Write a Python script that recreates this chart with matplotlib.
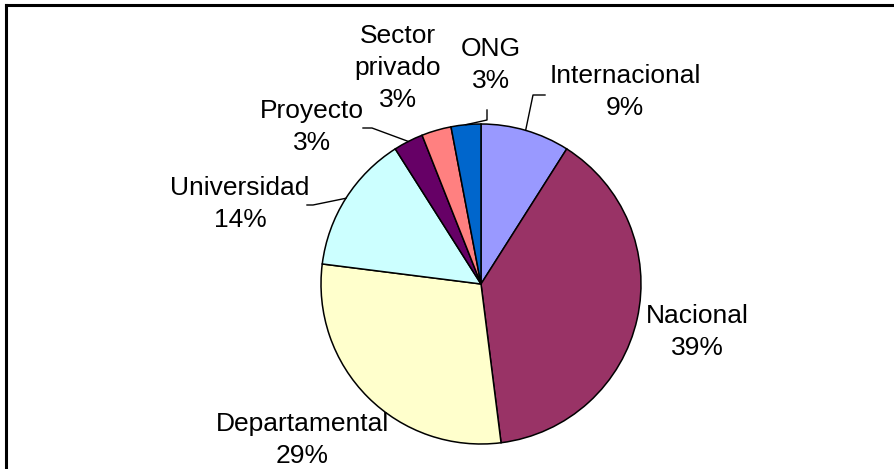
import numpy as np
import matplotlib
matplotlib.use("Agg")
import matplotlib.pyplot as plt
from matplotlib.lines import Line2D

# datos del gráfico
categorias = ["Internacional", "Nacional", "Departamental", "Universidad",
              "Proyecto", "Sector\nprivado", "ONG"]
porcentajes = [9, 39, 29, 14, 3, 3, 3]
colores = ["#9999FF", "#993366", "#FFFFCC", "#CCFFFF", "#660066", "#FF8080", "#0066CC"]

W, H = 894, 469
plt.rcParams["font.family"] = ["Liberation Sans", "DejaVu Sans"]

fig = plt.figure(figsize=(W / 100, H / 100), dpi=100)
ax = fig.add_axes([0, 0, 1, 1])


def px(x, y):
    # píxeles con origen arriba-izquierda -> datos
    return x, H - y


centro = px(481, 284)
radio = 160

wedges, _ = ax.pie(porcentajes, colors=colores, startangle=90, counterclock=False,
                   center=centro, radius=radio, frame=True,
                   wedgeprops=dict(edgecolor="black", linewidth=1.1))
ax.set_xlim(0, W)
ax.set_ylim(0, H)
ax.set_aspect("equal")
ax.axis("off")

# posiciones de etiquetas (píxeles)
pos_etiquetas = [(625, 92), (697, 332), (302, 440), (240, 204),
                 (312, 127), (398, 68), (491, 65)]
for cat, val, (x, y) in zip(categorias, porcentajes, pos_etiquetas):
    ax.text(*px(x, y), f"{cat}\n{val}%", ha="center", va="center",
            fontsize=19, linespacing=1.42, color="black")

# líneas guía: índice -> (inicio, codo)
guias = {0: ((545, 95), (533, 95)),
         6: ((487, 110), (487, 120)),
         4: ((363, 128), (372, 128)),
         3: ((307, 205), (313, 205))}
for i, (p0, p1) in guias.items():
    w = wedges[i]
    ang = np.deg2rad((w.theta1 + w.theta2) / 2)
    xe = centro[0] + radio * np.cos(ang)
    ye = centro[1] + radio * np.sin(ang)
    xs = [px(*p0)[0], px(*p1)[0], xe]
    ys = [px(*p0)[1], px(*p1)[1], ye]
    ax.plot(xs, ys, color="black", linewidth=1.0)

# marco (solo visible arriba e izquierda)
fig.add_artist(Line2D([6 / W, 1], [1 - 5 / H, 1 - 5 / H], color="black",
                      linewidth=2.2, transform=fig.transFigure))
fig.add_artist(Line2D([6 / W, 6 / W], [0, 1 - 5 / H], color="black",
                      linewidth=2.2, transform=fig.transFigure))

fig.savefig("out.png", dpi=100)
